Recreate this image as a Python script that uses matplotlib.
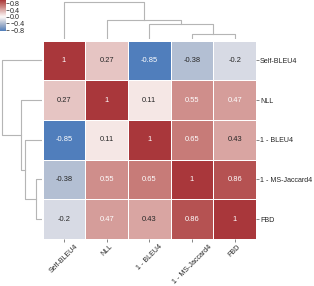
import numpy as np
import pandas as pd
import matplotlib
matplotlib.use("Agg")
import matplotlib.pyplot as plt
import seaborn as sns

plt.rcParams['font.family'] = ['Liberation Sans', 'DejaVu Sans']
plt.rcParams['text.color'] = '#262626'
plt.rcParams['xtick.color'] = '#262626'
plt.rcParams['ytick.color'] = '#262626'

# etiquetas y matriz de correlación
metricas = ["Self-BLEU4", "NLL", "1 - BLEU4", "1 - MS-Jaccard4", "FBD"]
fila_self = [1, 0.27, -0.85, -0.38, -0.2]
fila_nll = [0.27, 1, 0.11, 0.55, 0.47]
fila_bleu = [-0.85, 0.11, 1, 0.65, 0.43]
fila_jacc = [-0.38, 0.55, 0.65, 1, 0.86]
fila_fbd = [-0.2, 0.47, 0.43, 0.86, 1]

corr = pd.DataFrame([fila_self, fila_nll, fila_bleu, fila_jacc, fila_fbd],
                    index=metricas, columns=metricas)


### ----- clustering jerárquico (average, euclídea), sin scipy

def enlazar(X):
    n = len(X)
    d = np.sqrt(((X[:, None, :] - X[None, :, :]) ** 2).sum(-1))
    grupos = {i: [i] for i in range(n)}
    Z = []
    sig = n
    while len(grupos) > 1:
        ids = sorted(grupos)
        mejor = None
        for a in range(len(ids)):
            for b in range(a + 1, len(ids)):
                ga, gb = grupos[ids[a]], grupos[ids[b]]
                dist = d[np.ix_(ga, gb)].mean()
                if mejor is None or dist < mejor[0]:
                    mejor = (dist, ids[a], ids[b])
        dist, a, b = mejor
        Z.append((a, b, dist))
        grupos[sig] = grupos.pop(a) + grupos.pop(b)
        sig += 1
    return Z, n


def coords_dendro(Z, n):
    # devuelve hojas ordenadas y segmentos (pos, altura) estilo scipy
    hijos = {n + k: (a, b, h) for k, (a, b, h) in enumerate(Z)}
    orden = []
    segs = []

    def rec(nodo):
        if nodo < n:
            orden.append(nodo)
            return len(orden) - 0.5, 0.0
        a, b, h = hijos[nodo]
        pa, ha = rec(a)
        pb, hb = rec(b)
        segs.append(([pa, pa, pb, pb], [ha, h, h, hb]))
        return (pa + pb) / 2, h

    rec(n + len(Z) - 1)
    return orden, segs


Z, n = enlazar(corr.values)
orden, segs = coords_dendro(Z, n)
hmax = max(max(s[1]) for s in segs)
datos = corr.iloc[orden, orden]


### ---- figura

W, H = 314, 286
fig = plt.figure(figsize=(W / 100, H / 100), dpi=100)

def caja(x0, y0, x1, y1):
    return [x0 / W, 1 - y1 / H, (x1 - x0) / W, (y1 - y0) / H]

ax_hm = fig.add_axes(caja(42.7, 40.5, 256, 239))
ax_row = fig.add_axes(caja(0, 40.5, 42, 239))
ax_col = fig.add_axes(caja(42.7, 0, 256, 39))
ax_cb = fig.add_axes(caja(0, 0, 6, 31))

fs = 5.1
sns.heatmap(datos, ax=ax_hm, cmap="vlag", center=0, annot=True,
            linewidths=0.5, linecolor="white", cbar_ax=ax_cb,
            annot_kws={"fontsize": 5.4})

ax_hm.yaxis.tick_right()
ax_hm.set_xlabel("")
ax_hm.set_ylabel("")
ax_hm.tick_params(axis="both", labelsize=fs, length=2, width=0.5,
                  color="#555555", pad=1)
plt.setp(ax_hm.get_yticklabels(), rotation=0)
plt.setp(ax_hm.get_xticklabels(), rotation=45)

col_lineas = "#b5b5b5"
for xs, ys in segs:
    ax_col.plot(xs, ys, color=col_lineas, lw=0.8)
    ax_row.plot(ys, xs, color=col_lineas, lw=0.8)

ax_col.set_xlim(0, n)
ax_col.set_ylim(0, hmax * 1.05)
ax_row.set_ylim(n, 0)
ax_row.set_xlim(hmax * 1.05, 0)
for ax in (ax_col, ax_row):
    ax.set_xticks([])
    ax.set_yticks([])
    for s in ax.spines.values():
        s.set_visible(False)

cbar = ax_hm.collections[0].colorbar
cbar.set_ticks([-0.8, -0.4, 0, 0.4, 0.8])
cbar.outline.set_visible(False)
ax_cb.tick_params(labelsize=fs, length=2, width=0.5, pad=1)

fig.savefig("out.png", dpi=100)
